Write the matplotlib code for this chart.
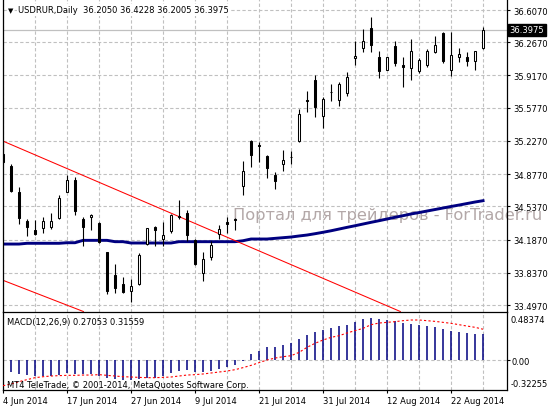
import matplotlib.pyplot as plt
import numpy as np

plt.rcParams['font.family'] = ['DejaVu Sans']

chart_title = "USDRUR,Daily  36.2050 36.4228 36.2005 36.3975"
macd_title = "MACD(12,26,9) 0.27053 0.31559"
copyright_note = "MT4 TeleTrade, © 2001-2014, MetaQuotes Software Corp."
watermark = "Портал для трейдеров - ForTrader.ru"
last_price = 36.3975

# daily candles, 4 Jun 2014 .. 26 Aug 2014
opens = [35.089, 34.959, 34.685, 34.380, 34.288, 34.312, 34.323, 34.411, 34.692, 34.815,
         34.404, 34.422, 34.362, 34.053, 33.817, 33.719, 33.648, 33.719, 34.140, 34.323,
         34.190, 34.274, 34.439, 34.464, 34.182, 33.831, 34.000, 34.246, 34.369, 34.404,
         34.749, 35.229, 35.187, 35.065, 34.868, 34.980, 35.054, 35.229, 35.661, 35.869,
         35.493, 35.739, 35.661, 35.729, 36.098, 36.203, 36.414, 36.108, 35.978, 36.224,
         36.027, 35.992, 35.961, 36.030, 36.167, 36.361, 35.978, 36.108, 36.115, 36.073,
         36.2050]
highs = [35.215, 34.984, 34.738, 34.404, 34.396, 34.422, 34.467, 34.657, 34.868, 34.843,
         34.428, 34.457, 34.369, 34.059, 33.929, 33.789, 33.771, 34.042, 34.306, 34.333,
         34.375, 34.457, 34.607, 34.502, 34.193, 34.053, 34.175, 34.341, 34.422, 34.411,
         35.018, 35.237, 35.219, 35.078, 34.896, 35.131, 35.121, 35.563, 35.756, 35.922,
         35.687, 35.827, 35.845, 35.957, 36.277, 36.407, 36.530, 36.178, 36.115, 36.283,
         36.108, 36.301, 36.098, 36.196, 36.330, 36.372, 36.372, 36.206, 36.161, 36.178,
         36.4228]
lows = [34.989, 34.685, 34.351, 34.228, 34.235, 34.256, 34.298, 34.404, 34.685, 34.446,
        34.122, 34.291, 34.151, 33.613, 33.621, 33.624, 33.526, 33.711, 34.130, 34.116,
        34.116, 34.256, 34.404, 34.175, 33.919, 33.753, 33.975, 34.193, 34.256, 34.291,
        34.657, 34.949, 35.008, 34.833, 34.720, 34.913, 34.984, 35.219, 35.535, 35.476,
        35.360, 35.651, 35.598, 35.704, 36.030, 36.164, 36.167, 35.890, 35.975, 36.014,
        35.798, 35.872, 35.943, 36.009, 36.154, 36.048, 35.914, 36.062, 36.020, 35.978,
        36.2005]
closes = [35.000, 34.702, 34.411, 34.323, 34.249, 34.380, 34.383, 34.622, 34.815, 34.491,
          34.323, 34.446, 34.165, 33.648, 33.680, 33.631, 33.701, 34.024, 34.306, 34.291,
          34.235, 34.446, 34.422, 34.238, 33.929, 33.982, 34.130, 34.298, 34.354, 34.393,
          34.907, 35.082, 35.170, 34.945, 34.808, 35.026, 35.061, 35.511, 35.645, 35.588,
          35.669, 35.746, 35.827, 35.898, 36.119, 36.277, 36.241, 35.967, 36.108, 36.045,
          36.003, 36.172, 36.080, 36.172, 36.238, 36.073, 36.133, 36.143, 36.073, 36.172,
          36.3975]

# moving average (navy line)
ma_line = [34.140, 34.140, 34.140, 34.148, 34.148, 34.148, 34.148, 34.148, 34.154, 34.154,
           34.179, 34.179, 34.179, 34.179, 34.165, 34.165, 34.151, 34.151, 34.151, 34.151,
           34.151, 34.151, 34.165, 34.165, 34.165, 34.165, 34.165, 34.165, 34.165, 34.165,
           34.175, 34.193, 34.193, 34.193, 34.200, 34.207, 34.214, 34.225, 34.235, 34.249,
           34.264, 34.280, 34.298, 34.316, 34.333, 34.351, 34.369, 34.386, 34.404, 34.422,
           34.439, 34.457, 34.472, 34.488, 34.504, 34.520, 34.536, 34.551, 34.567, 34.583,
           34.597]

# MACD histogram and signal
macd_main = [-0.120, -0.126, -0.143, -0.154, -0.161, -0.167, -0.161, -0.150, -0.136, -0.143,
             -0.143, -0.143, -0.161, -0.184, -0.195, -0.205, -0.205, -0.195, -0.184, -0.184,
             -0.161, -0.136, -0.109, -0.102, -0.126, -0.120, -0.109, -0.092, -0.075, -0.051,
             -0.007, 0.061, 0.095, 0.130, 0.136, 0.157, 0.171, 0.215, 0.256, 0.284,
             0.307, 0.328, 0.351, 0.362, 0.386, 0.420, 0.430, 0.420, 0.410, 0.396,
             0.376, 0.369, 0.359, 0.348, 0.335, 0.318, 0.300, 0.290, 0.272, 0.262,
             0.27053]
macd_signal = [-0.263, -0.246, -0.222, -0.201, -0.181, -0.171, -0.164, -0.160, -0.157, -0.157,
               -0.154, -0.154, -0.150, -0.157, -0.164, -0.171, -0.174, -0.178, -0.181, -0.181,
               -0.178, -0.174, -0.164, -0.154, -0.150, -0.143, -0.133, -0.123, -0.113, -0.099,
               -0.078, -0.055, -0.027, 0.000, 0.020, 0.034, 0.044, 0.078, 0.130, 0.171,
               0.205, 0.232, 0.249, 0.277, 0.301, 0.324, 0.362, 0.379, 0.386, 0.393,
               0.403, 0.410, 0.410, 0.403, 0.396, 0.386, 0.376, 0.362, 0.348, 0.335,
               0.31559]

# trend channel points (bar index, price)
upper_trend = [(0, 35.225), (48.75, 33.462)]
lower_trend = [(-0.1, 33.761), (9.25, 33.455)]

date_ticks = [0, 8, 16, 24, 32, 40, 48, 56]
date_labels = ["4 Jun 2014", "17 Jun 2014", "27 Jun 2014", "9 Jul 2014",
               "21 Jul 2014", "31 Jul 2014", "12 Aug 2014", "22 Aug 2014"]
price_ticks = [36.607, 36.267, 35.917, 35.577, 35.227, 34.877, 34.537, 34.187, 33.837, 33.497]

grid_kw = dict(color='#c0c0c0', linestyle=(0, (3, 2)), linewidth=0.8)

fig = plt.figure(figsize=(5.5, 4.1), dpi=100)
ax = fig.add_axes([0.0049, 0.2378, 0.9164, 0.7622])
ax2 = fig.add_axes([0.0049, 0.0463, 0.9164, 0.1895])

x = np.arange(len(opens))
o = np.array(opens)
h = np.array(highs)
l = np.array(lows)
c = np.array(closes)
up = c >= o

# price panel
ax.set_xlim(-0.04, 62.96)
ax.set_ylim(33.429, 36.723)
ax.set_axisbelow(True)
ax.set_xticks(range(0, 61, 4))
ax.set_yticks(price_ticks, ["%.4f" % p for p in price_ticks])
ax.grid(True, **grid_kw)
ax.yaxis.tick_right()
ax.tick_params(axis='x', length=0, labelbottom=False)
ax.tick_params(axis='y', length=2.5, width=0.8, pad=2, labelsize=6)
ax.spines['top'].set_visible(False)
ax.spines['bottom'].set_visible(False)
for s in ['left', 'right']:
    ax.spines[s].set_linewidth(0.9)

ax.axhline(last_price, color='#c0c0c0', lw=0.9, zorder=1)
ax.text(0.457, 0.3104, watermark, transform=ax.transAxes, fontsize=11.7,
        color='#b3a8a8', ha='left', va='center', zorder=1, clip_on=False)

ax.plot(x, ma_line, color='#000080', lw=2.1, zorder=2)
ax.axline(upper_trend[0], upper_trend[1], color='red', lw=0.75, zorder=2)
ax.axline(lower_trend[0], lower_trend[1], color='red', lw=0.75, zorder=2)

ax.vlines(x, l, h, color='black', lw=0.8, zorder=3)
body_lo = np.minimum(o, c)
body_h = np.maximum(np.abs(c - o), 0.004)
ax.bar(x[up], body_h[up], bottom=body_lo[up], width=0.36, color='white',
       edgecolor='black', linewidth=0.75, zorder=4)
ax.bar(x[~up], body_h[~up], bottom=body_lo[~up], width=0.36, color='black',
       edgecolor='black', linewidth=0.75, zorder=4)

ax.text(0.011, 0.965, "\u25bc", transform=ax.transAxes, fontsize=5, ha='left', va='center')
ax.text(0.031, 0.965, chart_title, transform=ax.transAxes, fontsize=6, ha='left', va='center',
        bbox=dict(facecolor='white', edgecolor='none', pad=1))
ax.text(1.006, last_price, "%.4f" % last_price, transform=ax.get_yaxis_transform(),
        fontsize=6, color='white', ha='left', va='center', clip_on=False,
        bbox=dict(facecolor='black', edgecolor='black', pad=1.2))

# MACD panel
ax2.set_xlim(-0.04, 62.96)
ax2.set_ylim(-0.3074, 0.4887)
ax2.set_axisbelow(True)
ax2.set_xticks(date_ticks, date_labels, ha='left')
ax2.set_xticks(range(0, 61, 4), minor=True)
ax2.grid(True, which='both', axis='x', **grid_kw)
ax2.axhline(0, zorder=0, **grid_kw)
ax2.yaxis.tick_right()
ax2.set_yticks([0.0], ["0.00"])
ax2.tick_params(axis='x', which='major', length=2.5, width=0.8, pad=1.5, labelsize=6)
ax2.tick_params(axis='x', which='minor', length=0)
ax2.tick_params(axis='y', length=2.5, width=0.8, pad=0.8, labelsize=6)
for s in ax2.spines.values():
    s.set_linewidth(0.9)

ax2.vlines(x, 0, macd_main, color='#000080', lw=1.1, zorder=2)
ax2.plot(x, macd_signal, color='red', lw=0.8, ls=(0, (2, 2)), zorder=3)

ax2.text(1.0085, 0.97, "0.48374", transform=ax2.transAxes, fontsize=6, ha='left', va='top')
ax2.text(1.0085, 0.03, "-0.32255", transform=ax2.transAxes, fontsize=6, ha='left', va='bottom')
ax2.text(0.009, 0.884, macd_title, transform=ax2.transAxes, fontsize=6, ha='left', va='center')
ax2.text(0.009, 0.077, copyright_note, transform=ax2.transAxes, fontsize=6, ha='left', va='center')

fig.savefig("out.png", dpi=100)
